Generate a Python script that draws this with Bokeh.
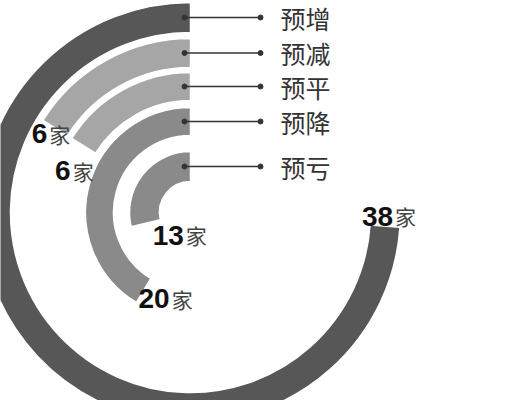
import math
from bokeh.plotting import figure
from bokeh.models import ColumnDataSource, Range1d
from bokeh.core.properties import value
from bokeh.embed import file_html
from bokeh.resources import INLINE

# ---- data ----
categories = ["预增", "预减", "预平", "预降", "预亏"]
counts = [38, 6, 6, 20, 13]
unit_label = "家"

# ---- angular scale (degrees swept per count, plus base sweep) ----
ANGLE_BASE = 19.0
ANGLE_PER = 6.5

# ---- styling / geometry ----
CX, CY = 190, 204
outer_r = [210, 174, 140, 105, 61]
inner_r = [180, 145, 112, 77, 31]
colors = ["#575757", "#a6a6a6", "#a6a6a6", "#8a8a8a", "#8a8a8a"]
label_off = [(8, -10), (-8, 6), (-13, 25), (26, 8), (38, 12)]

p = figure(width=516, height=400, x_range=Range1d(0, 516), y_range=Range1d(16, 416),
           output_backend="svg", toolbar_location=None, min_border=0)
p.axis.visible = False
p.grid.visible = False
p.outline_line_color = None
p.background_fill_color = "white"

start = [math.radians(90)] * len(counts)
end = [math.radians(90 + ANGLE_BASE + ANGLE_PER * v) for v in counts]
src = ColumnDataSource(dict(x=[CX] * len(counts), y=[CY] * len(counts),
                            inner=inner_r, outer=outer_r, start=start, end=end,
                            color=colors))
p.annular_wedge(x="x", y="y", inner_radius="inner", outer_radius="outer",
                start_angle="start", end_angle="end", fill_color="color",
                line_color="white", line_width=1.5, source=src)

# leader lines and category labels
mid_r = [(a + b) / 2 for a, b in zip(inner_r, outer_r)]
ly = [CY + r for r in mid_r]
x0, x1 = 184, 260
p.segment(x0=[x0] * 5, y0=ly, x1=[x1] * 5, y1=ly, line_color="#333333", line_width=1.3)
p.scatter(x=[x0] * 5 + [x1] * 5, y=ly + ly, size=5, color="#333333")
p.text(x=[280] * 5, y=ly, text=categories, text_font=value("Noto Sans CJK SC"),
       text_font_size="25px", text_baseline="middle", text_align="left",
       text_color="#333333")

# value labels at arc ends
lx, lyv, xo, yo, nums = [], [], [], [], []
for i, v in enumerate(counts):
    a = end[i]
    lx.append(CX + mid_r[i] * math.cos(a))
    lyv.append(CY + mid_r[i] * math.sin(a))
    xo.append(label_off[i][0])
    yo.append(label_off[i][1])
    nums.append(str(v))
lsrc = ColumnDataSource(dict(x=lx, y=lyv, xo=xo, yo=yo, xo2=[o + 2 for o in xo],
                             t=nums, u=[unit_label] * len(counts)))
p.text(x="x", y="y", text="t", x_offset="xo", y_offset="yo", source=lsrc,
       text_font=value("Liberation Sans"), text_font_style="bold",
       text_font_size="28px", text_align="right", text_baseline="alphabetic",
       text_color="#111111")
p.text(x="x", y="y", text="u", x_offset="xo2", y_offset="yo", source=lsrc,
       text_font=value("Noto Sans CJK SC"), text_font_size="21px",
       text_align="left", text_baseline="alphabetic", text_color="#444444")

open("out.html", "w").write(file_html(p, INLINE))
